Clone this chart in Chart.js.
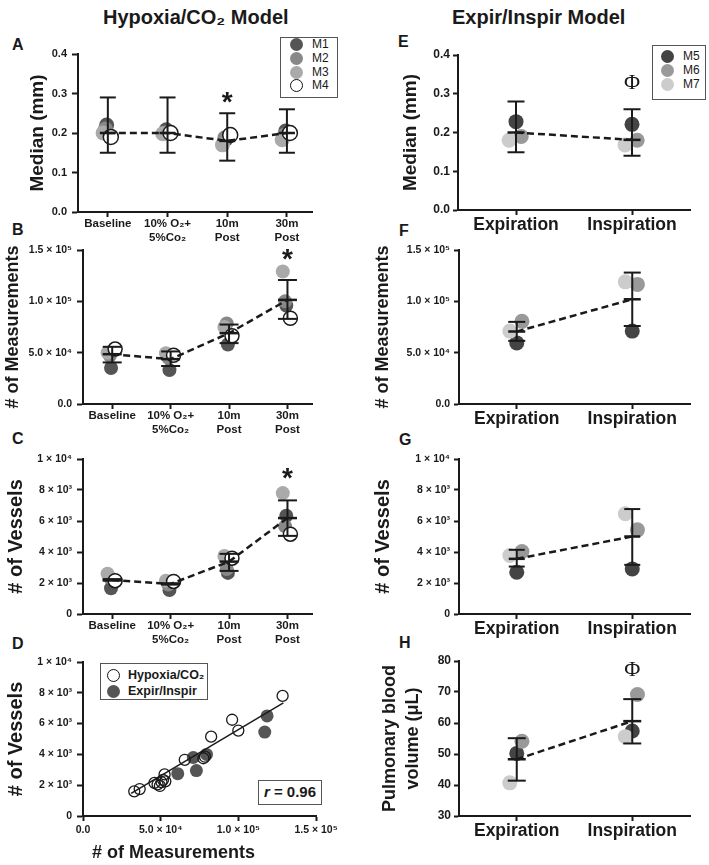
<!DOCTYPE html>
<html>
<head>
<meta charset="utf-8">
<script src="https://cdn.jsdelivr.net/npm/chart.js@4.4.1/dist/chart.umd.min.js"></script>
<style>
  body { margin: 0; background: #fff; width: 709px; height: 865px; position: relative; overflow: hidden;
         font-family: "Liberation Sans", Arial, sans-serif; color: #1a1a1a; }
  canvas { position: absolute; }
  .t { position: absolute; font-weight: bold; white-space: nowrap; line-height: 1; }
  .box { position: absolute; border: 1px solid #555; background: #fff; box-sizing: border-box; }
  .it { position: absolute; height: 14px; line-height: 14px; font-size: 12px; white-space: nowrap; }
  .dot { position: absolute; border-radius: 50%; box-sizing: border-box; }
</style>
</head>
<body>

<div class="t" style="left:103px;top:7px;font-size:20px">Hypoxia/CO₂ Model</div>
<div class="t" style="left:452px;top:7px;font-size:20px">Expir/Inspir Model</div>

<div class="t" style="left:12px;top:37px;font-size:16px">A</div>
<div class="t" style="left:12px;top:222px;font-size:16px">B</div>
<div class="t" style="left:12px;top:431px;font-size:16px">C</div>
<div class="t" style="left:12px;top:636px;font-size:16px">D</div>
<div class="t" style="left:398px;top:34px;font-size:16px">E</div>
<div class="t" style="left:399px;top:223px;font-size:16px">F</div>
<div class="t" style="left:399px;top:432px;font-size:16px">G</div>
<div class="t" style="left:399px;top:635px;font-size:16px">H</div>

<canvas id="chartA" width="330" height="215" style="left:0;top:40px"></canvas>
<canvas id="chartB" width="330" height="212" style="left:0;top:236px"></canvas>
<canvas id="chartC" width="330" height="210" style="left:0;top:445px"></canvas>
<canvas id="chartD" width="352" height="217" style="left:0;top:648px"></canvas>
<canvas id="chartE" width="350" height="200" style="left:355px;top:41px"></canvas>
<canvas id="chartF" width="350" height="200" style="left:355px;top:236px"></canvas>
<canvas id="chartG" width="350" height="205" style="left:355px;top:445px"></canvas>
<canvas id="chartH" width="350" height="218" style="left:355px;top:647px"></canvas>

<div class="t" style="left:92px;top:843px;font-size:18px">#&nbsp;of Measurements</div>

<!-- legends -->
<div class="box" style="left:280px;top:37px;width:58px;height:61px">
  <div class="dot" style="left:9px;top:0px;width:13px;height:13px;background:#555"></div><div class="it" style="left:31px;top:-1px">M1</div>
  <div class="dot" style="left:9px;top:14px;width:13px;height:13px;background:#888"></div><div class="it" style="left:31px;top:13px">M2</div>
  <div class="dot" style="left:9px;top:28px;width:13px;height:13px;background:#aaa"></div><div class="it" style="left:31px;top:27px">M3</div>
  <div class="dot" style="left:9px;top:41px;width:13px;height:13px;border:1.5px solid #111;background:#fff"></div><div class="it" style="left:31px;top:40px">M4</div>
</div>
<div class="box" style="left:652px;top:45px;width:54px;height:55px">
  <div class="dot" style="left:8px;top:4px;width:13px;height:13px;background:#444"></div><div class="it" style="left:30px;top:3px">M5</div>
  <div class="dot" style="left:8px;top:18px;width:13px;height:13px;background:#999"></div><div class="it" style="left:30px;top:17px">M6</div>
  <div class="dot" style="left:8px;top:32px;width:13px;height:13px;background:#ccc"></div><div class="it" style="left:30px;top:31px">M7</div>
</div>
<div class="box" style="left:100px;top:663px;width:108px;height:37px">
  <div class="dot" style="left:6px;top:5px;width:13px;height:13px;border:1.5px solid #111;background:#fff"></div><div class="it" style="left:27px;top:4px;font-weight:bold;font-size:12.5px">Hypoxia/CO₂</div>
  <div class="dot" style="left:6px;top:21px;width:13px;height:13px;background:#555"></div><div class="it" style="left:27px;top:20px;font-weight:bold;font-size:12.5px">Expir/Inspir</div>
</div>
<div class="box" style="left:258px;top:780px;width:64px;height:25px;border-width:1.5px;text-align:center;line-height:22px;font-weight:bold;font-size:15px"><i>r</i> = 0.96</div>

<script>
// ---- data ----
const hypoxiaLabels = [['Baseline'], ['10% O₂+', '5%Co₂'], ['10m', 'Post'], ['30m', 'Post']];
const breathLabels = ['Expiration', 'Inspiration'];

const medianTicks = [0, 0.1, 0.2, 0.3, 0.4];
const medianTickLabels = ['0.0', '0.1', '0.2', '0.3', '0.4'];
const measTicks = [0, 50000, 100000, 150000];
const measTickLabels = ['0.0', '5.0 × 10⁴', '1.0 × 10⁵', '1.5 × 10⁵'];
const vesselTicks = [0, 2000, 4000, 6000, 8000, 10000];
const vesselTickLabels = ['0', '2 × 10³', '4 × 10³', '6 × 10³', '8 × 10³', '1 × 10⁴'];
const volumeTicks = [30, 40, 50, 60, 70, 80];
const volumeTickLabels = ['30', '40', '50', '60', '70', '80'];

// A: median diameter, hypoxia
const aMean = [0.20, 0.20, 0.18, 0.20];
const aLow = [0.15, 0.15, 0.13, 0.15];
const aHigh = [0.29, 0.29, 0.25, 0.26];
const aM1 = [0.22, 0.208, 0.185, 0.205];
const aM2 = [0.21, 0.20, 0.188, 0.195];
const aM3 = [0.20, 0.198, 0.17, 0.183];
const aM4 = [0.19, 0.20, 0.195, 0.20];

// B: number of measurements, hypoxia
const bMean = [48500, 43700, 69000, 101400];
const bLow = [40500, 37000, 59300, 82900];
const bHigh = [55700, 51200, 77400, 120800];
const bM1 = [35000, 33000, 58000, 96000];
const bM2 = [47000, 45000, 78500, 100000];
const bM3 = [50000, 49500, 75000, 129000];
const bM4 = [53500, 47500, 66500, 83500];

// C: number of vessels, hypoxia
const cMean = [2200, 1940, 3380, 6190];
const cLow = [2150, 1900, 2780, 5040];
const cHigh = [2250, 1980, 3880, 7330];
const cM1 = [1660, 1550, 2650, 6340];
const cM2 = [2350, 1900, 2900, 5650];
const cM3 = [2600, 2150, 3750, 7800];
const cM4 = [2150, 2100, 3600, 5150];

// D: vessels vs measurements
const dHypMeas = [33000, 36500, 46000, 48000, 49500, 50500, 51500, 52500, 53000, 65500, 77500, 78500, 82500, 96000, 100000, 128500];
const dHypVess = [1600, 1750, 2150, 2050, 1950, 2200, 2350, 2700, 2250, 3650, 3750, 3850, 5150, 6250, 5550, 7800];
const dBreathMeas = [61000, 71000, 73000, 79500, 117000, 118500];
const dBreathVess = [2750, 3800, 2950, 4000, 5450, 6500];
const dFitMeas = [31000, 129000];
const dFitVess = [1470, 7340];

// E-H: expiration / inspiration
const eMean = [0.20, 0.181];
const eLow = [0.149, 0.14];
const eHigh = [0.28, 0.26];
const eM5 = [0.228, 0.221];
const eM6 = [0.19, 0.18];
const eM7 = [0.18, 0.168];

const fMean = [70600, 102000];
const fLow = [61500, 76000];
const fHigh = [80000, 128000];
const fM5 = [59500, 71000];
const fM6 = [80500, 116500];
const fM7 = [71000, 119000];

const gMean = [3560, 5000];
const gLow = [3060, 3170];
const gHigh = [4140, 6770];
const gM5 = [2690, 2910];
const gM6 = [4030, 5430];
const gM7 = [3770, 6470];

const hMean = [48.3, 60.6];
const hLow = [41.4, 53.4];
const hHigh = [55.1, 67.7];
const hM5 = [50.2, 57.4];
const hM6 = [54.1, 69.2];
const hM7 = [40.7, 55.6];

// ---- drawing ----
const ink = '#1a1a1a';
const fam = '"Liberation Sans", Arial, sans-serif';

Chart.register({
  id: 'marks',
  afterDatasetsDraw(chart, args, opts) {
    const items = opts.items || [];
    const ctx = chart.ctx;
    items.forEach(m => {
      ctx.save();
      ctx.font = m.font;
      ctx.fillStyle = ink;
      ctx.textAlign = 'center';
      ctx.textBaseline = 'middle';
      ctx.fillText(m.text, chart.scales.x.getPixelForValue(m.x), chart.scales.y.getPixelForValue(m.y));
      ctx.restore();
    });
  }
});

function axis(o) {
  const horiz = o.pos === 'bottom';
  return {
    type: 'linear', position: o.pos, min: o.min, max: o.max,
    afterFit: s => { if (horiz) s.height = o.size; else s.width = o.size; },
    afterBuildTicks: s => { s.ticks = o.values.map(v => ({ value: v })); },
    grid: { display: true, drawOnChartArea: false, drawTicks: true, tickLength: o.tl || 5, tickWidth: 2, tickColor: ink },
    border: { display: true, color: ink, width: 2 },
    ticks: { color: ink, padding: o.pad, autoSkip: false, maxRotation: 0,
             font: { family: fam, size: o.font, weight: 'bold', lineHeight: 1.2 },
             callback: (v, i) => o.labels[i] },
    title: o.title ? { display: true, text: o.title, color: ink,
                       font: { family: fam, size: o.titleSize, weight: 'bold', lineHeight: o.titleLH || 1.2 },
                       padding: { top: o.titlePad, bottom: 0 } } : { display: false }
  };
}

function errorPoints(low, high) {
  const pts = [];
  low.forEach((lo, i) => { pts.push({ x: i, y: lo }, { x: i, y: high[i] }, { x: i, y: null }); });
  return pts;
}

function dotPanel(id, p) {
  const datasets = [
    { data: errorPoints(p.low, p.high), showLine: true, borderColor: ink, borderWidth: 2,
      pointStyle: 'line', pointRadius: p.cap, pointBorderWidth: 2, pointBorderColor: ink },
    { data: p.mean.map((v, i) => ({ x: i, y: v })), showLine: true, borderColor: ink, borderWidth: 2.5,
      borderDash: [7, 4], pointStyle: 'line', pointRadius: p.cap, pointBorderWidth: 2.5, pointBorderColor: ink }
  ];
  p.mice.forEach(m => {
    datasets.push({
      data: m.values.map((v, i) => ({ x: i + m.jit, y: v })),
      pointRadius: p.r, pointBackgroundColor: m.fill, pointBorderColor: m.line || m.fill,
      pointBorderWidth: m.line ? 1.5 : 0
    });
  });
  new Chart(document.getElementById(id), {
    type: 'scatter',
    data: { datasets },
    options: {
      responsive: false, animation: false, events: [],
      layout: { autoPadding: false, padding: { top: 14, right: p.right, left: 0, bottom: 0 } },
      scales: { x: axis(p.x), y: axis(p.y) },
      plugins: { legend: { display: false }, tooltip: { enabled: false }, marks: { items: p.marks || [] } }
    }
  });
}

const hypX = (h) => ({ pos: 'bottom', min: -0.5, max: 3.42, values: [0, 1, 2, 3], labels: hypoxiaLabels, size: h, font: 11.5, pad: 0 });
const brX = (h) => ({ pos: 'bottom', min: -0.5, max: 1.5, values: [0, 1], labels: breathLabels, size: h, font: 17.5, pad: 0 });

const hypMice = (m1, m2, m3, m4) => [
  { values: m4, fill: '#fff', line: ink, jit: 0.05 },
  { values: m3, fill: '#aaa', jit: -0.08 },
  { values: m2, fill: '#888', jit: -0.04 },
  { values: m1, fill: '#555', jit: -0.02 }
];
const brMice = (m5, m6, m7) => [
  { values: m7, fill: '#ccc', jit: -0.06 },
  { values: m6, fill: '#999', jit: 0.045 },
  { values: m5, fill: '#444', jit: 0 }
];

dotPanel('chartA', {
  mean: aMean, low: aLow, high: aHigh, mice: hypMice(aM1, aM2, aM3, aM4), cap: 8, r: 7.5, right: 18,
  x: hypX(43),
  y: { pos: 'left', min: 0, max: 0.4, values: medianTicks, labels: medianTickLabels, size: 78, font: 11, pad: 5, tl: 6,
       title: 'Median (mm)', titleSize: 19, titlePad: 26.6 },
  marks: [{ text: '*', x: 2, y: 0.275, font: 'bold 28px ' + fam }]
});

dotPanel('chartB', {
  mean: bMean, low: bLow, high: bHigh, mice: hypMice(bM1, bM2, bM3, bM4), cap: 9.5, r: 7, right: 18,
  x: hypX(44),
  y: { pos: 'left', min: 0, max: 150000, values: measTicks, labels: measTickLabels, size: 83, font: 10.5, pad: 5, tl: 6,
       title: '# of Measurements', titleSize: 18, titlePad: 2.2 },
  marks: [{ text: '*', x: 3, y: 140000, font: 'bold 28px ' + fam }]
});

dotPanel('chartC', {
  mean: cMean, low: cLow, high: cHigh, mice: hypMice(cM1, cM2, cM3, cM4), cap: 9.5, r: 7, right: 18,
  x: hypX(41),
  y: { pos: 'left', min: 0, max: 10000, values: vesselTicks, labels: vesselTickLabels, size: 83, font: 10.5, pad: 5, tl: 6,
       title: '# of Vessels', titleSize: 20, titlePad: 4 },
  marks: [{ text: '*', x: 3, y: 8700, font: 'bold 28px ' + fam }]
});

new Chart(document.getElementById('chartD'), {
  type: 'scatter',
  data: {
    datasets: [
      { data: dFitMeas.map((v, i) => ({ x: v, y: dFitVess[i] })), showLine: true, borderColor: ink, borderWidth: 1.5, pointRadius: 0 },
      { data: dHypMeas.map((v, i) => ({ x: v, y: dHypVess[i] })), pointRadius: 5.5, pointBackgroundColor: 'rgba(255,255,255,0)',
        pointBorderColor: ink, pointBorderWidth: 1.3 },
      { data: dBreathMeas.map((v, i) => ({ x: v, y: dBreathVess[i] })), pointRadius: 6.5, pointBackgroundColor: '#555',
        pointBorderColor: '#555', pointBorderWidth: 0 }
    ]
  },
  options: {
    responsive: false, animation: false, events: [],
    layout: { autoPadding: false, padding: { top: 14, right: 36, left: 0, bottom: 0 } },
    scales: {
      x: axis({ pos: 'bottom', min: 0, max: 150000, values: measTicks, labels: measTickLabels, size: 49, font: 10.5, pad: 3 }),
      y: axis({ pos: 'left', min: 0, max: 10000, values: vesselTicks, labels: vesselTickLabels, size: 83, font: 10.5, pad: 5, tl: 6,
                title: '# of Vessels', titleSize: 20, titlePad: 4 })
    },
    plugins: { legend: { display: false }, tooltip: { enabled: false } }
  }
});

dotPanel('chartE', {
  mean: eMean, low: eLow, high: eHigh, mice: brMice(eM5, eM6, eM7), cap: 8.5, r: 7.5, right: 15,
  x: brX(31),
  y: { pos: 'left', min: 0, max: 0.4, values: medianTicks, labels: medianTickLabels, size: 103, font: 12, pad: 3,
       title: 'Median (mm)', titleSize: 19, titlePad: 44.6 },
  marks: [{ text: 'Φ', x: 1, y: 0.328, font: '22px "Liberation Serif", serif' }]
});

dotPanel('chartF', {
  mean: fMean, low: fLow, high: fHigh, mice: brMice(fM5, fM6, fM7), cap: 8.5, r: 7.5, right: 15,
  x: brX(32),
  y: { pos: 'left', min: 0, max: 150000, values: measTicks, labels: measTickLabels, size: 104, font: 10.5, pad: 4,
       title: '# of Measurements', titleSize: 18, titlePad: 17.2 }
});

dotPanel('chartG', {
  mean: gMean, low: gLow, high: gHigh, mice: brMice(gM5, gM6, gM7), cap: 8, r: 7.5, right: 15,
  x: brX(36),
  y: { pos: 'left', min: 0, max: 10000, values: vesselTicks, labels: vesselTickLabels, size: 104, font: 10.5, pad: 4,
       title: '# of Vessels', titleSize: 20, titlePad: 16 }
});

dotPanel('chartH', {
  mean: hMean, low: hLow, high: hHigh, mice: brMice(hM5, hM6, hM7), cap: 9, r: 7.5, right: 15,
  x: brX(49),
  y: { pos: 'left', min: 30, max: 80, values: volumeTicks, labels: volumeTickLabels, size: 104, font: 12, pad: 3,
       title: ['Pulmonary blood', 'volume (μL)'], titleSize: 18, titleLH: 1.28, titlePad: 23.5 },
  marks: [{ text: 'Φ', x: 1, y: 77.1, font: '22px "Liberation Serif", serif' }]
});
</script>
</body>
</html>
